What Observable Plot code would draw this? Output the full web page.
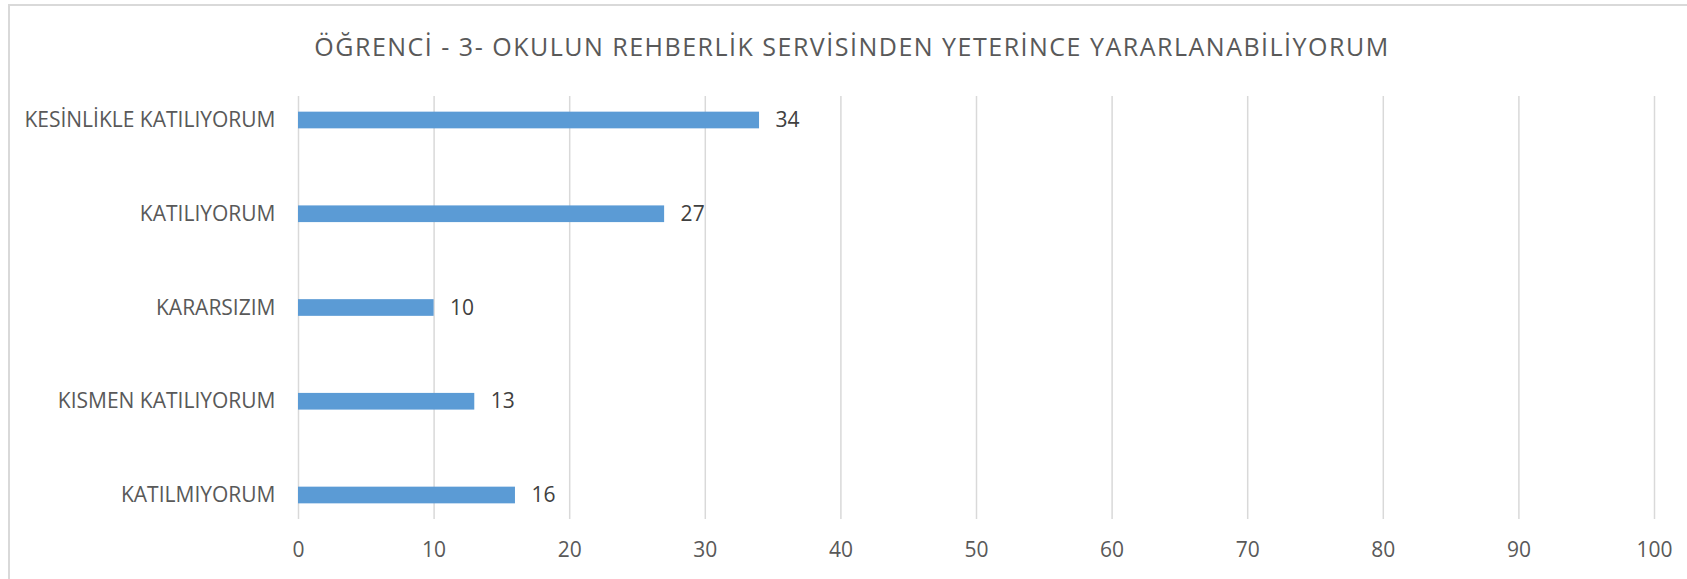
<!DOCTYPE html>
<html><head><meta charset="utf-8">
<script src="https://cdn.jsdelivr.net/npm/d3@7"></script>
<script src="https://cdn.jsdelivr.net/npm/@observablehq/plot@0.6"></script>
<style>
body{margin:0;background:#fff;width:1687px;height:579px;overflow:hidden;position:relative;font-family:"Open Sans",sans-serif}
#border{position:absolute;left:8px;top:4px;width:1700px;height:600px;border-top:2px solid #d9d9d9;border-left:2px solid #d9d9d9}
#title{position:absolute;left:17px;top:0;width:1670px;height:80px;line-height:92px;text-align:center;font-size:25px;letter-spacing:1.5px;color:#595959;white-space:nowrap}
#chart{position:absolute;left:0;top:80px}
</style></head>
<body>
<div id="border"></div>
<div id="title">ÖĞRENCİ - 3- OKULUN REHBERLİK SERVİSİNDEN YETERİNCE YARARLANABİLİYORUM</div>
<div id="chart"></div>
<script>
const categories = ["KESİNLİKLE KATILIYORUM", "KATILIYORUM", "KARARSIZIM", "KISMEN KATILIYORUM", "KATILMIYORUM"];
const values = [34, 27, 10, 13, 16];
const xTicks = [0, 10, 20, 30, 40, 50, 60, 70, 80, 90, 100];

const data = categories.map((c, i) => ({category: c, value: values[i]}));

const chart = Plot.plot({
  width: 1687,
  height: 499,
  marginLeft: 298,
  marginRight: 33,
  marginTop: 16,
  marginBottom: 60,
  style: {fontFamily: "'Open Sans', sans-serif", fontSize: "21px", color: "#595959", background: "transparent", overflow: "visible"},
  x: {domain: [0, 100]},
  y: {domain: categories, paddingInner: 0.822, paddingOuter: 0.167, round: false},
  marks: [
    Plot.gridX(xTicks, {stroke: "#d9d9d9", strokeOpacity: 1, strokeWidth: 1.5}),
    Plot.barX(data, {x: "value", y: "category", fill: "#5b9bd5"}),
    Plot.text(data, {x: "value", y: "category", text: d => String(d.value), dx: 16, textAnchor: "start", fill: "#404040", fontSize: 21}),
    Plot.axisX(xTicks, {tickSize: 0, tickPadding: 23, label: null, fill: "#595959", fontSize: 21}),
    Plot.axisY({tickSize: 0, tickPadding: 23, label: null, fill: "#595959", fontSize: 21})
  ]
});
document.getElementById("chart").appendChild(chart);
</script>
</body></html>
